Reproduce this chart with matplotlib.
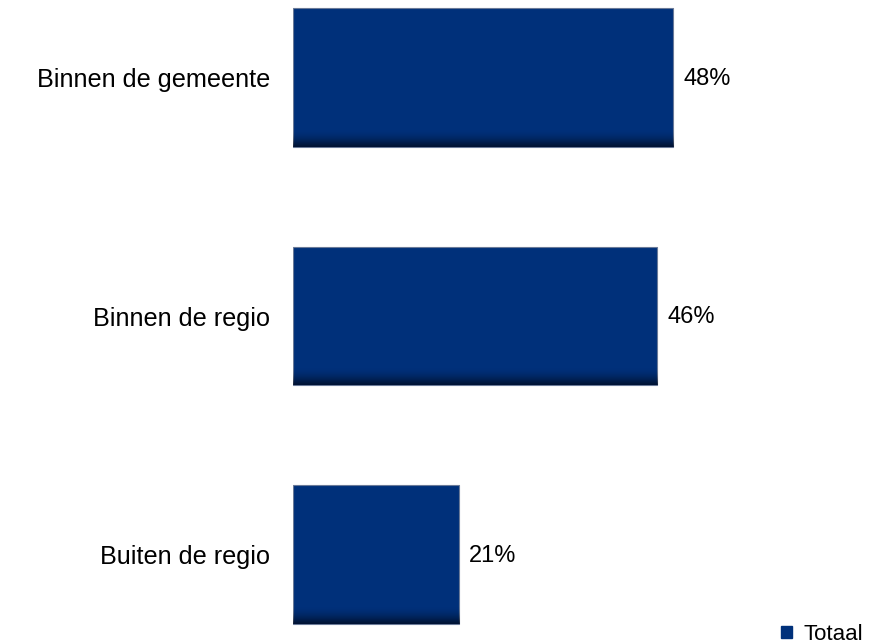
import numpy as np
import matplotlib.pyplot as plt
from matplotlib.colors import LinearSegmentedColormap
from matplotlib.patches import Patch

plt.rcParams['font.family'] = ['Liberation Sans', 'DejaVu Sans']

# Data
categories = ['Binnen de gemeente', 'Binnen de regio', 'Buiten de regio']
values = [48, 46, 21]
series_name = 'Totaal'

bar_color = '#00307a'
bar_height = 0.58

fig = plt.figure(figsize=(8.72, 6.44), dpi=100)
ax = fig.add_axes([0.336, 0.0, 0.664, 1.0])

y = np.arange(len(categories))
bars = ax.barh(y, values, height=bar_height, color=bar_color,
               edgecolor='#6a7a98', linewidth=0.8, zorder=2)

# darker band along the bottom of each bar
shade = LinearSegmentedColormap.from_list('shade', [(0, 0, 0, 0), (0.0, 0.05, 0.15, 0.85)])
grad = np.linspace(0, 1, 100).reshape(-1, 1) ** 2.5
for b in bars:
    x0, y0 = b.get_x(), b.get_y()
    w, h = b.get_width(), b.get_height()
    ax.imshow(grad, cmap=shade, aspect='auto', interpolation='bilinear',
              extent=(x0, x0 + w, y0 + h, y0 + h * 0.86), zorder=3)

for yi, v in zip(y, values):
    ax.text(v + 1.25, yi + 0.005, f'{v}%', va='center', ha='left', fontsize=17, color='#000000')

ax.set_xlim(0, 73.1)
ax.set_ylim(2.375, -0.325)
ax.set_yticks(y)
ax.set_yticklabels(categories, fontsize=18.2)
ax.tick_params(axis='y', length=0, pad=16.5)
ax.set_xticks([])
for s in ax.spines.values():
    s.set_visible(False)

ax.legend(handles=[Patch(color=bar_color, label=series_name)],
          loc='lower right', bbox_to_anchor=(0.988, -0.005), frameon=False,
          fontsize=16, handlelength=0.5, handleheight=0.5, handletextpad=0.5,
          borderpad=0.1, borderaxespad=0.0)

fig.savefig('out.png', dpi=100)
